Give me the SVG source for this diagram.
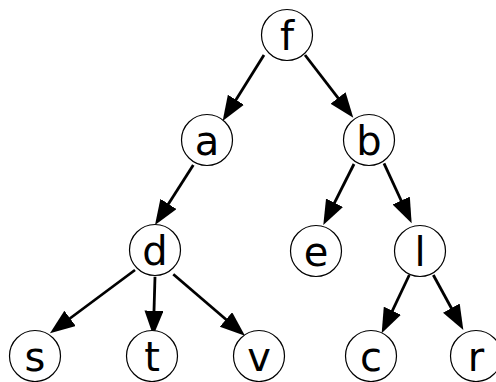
<svg xmlns="http://www.w3.org/2000/svg" width="496" height="382" viewBox="0 0 496 382">
<style>
.node circle{fill:#fff;stroke:#000;stroke-width:1.2}
.node text{font-family:"DejaVu Sans",sans-serif;font-size:40px;text-anchor:middle;fill:#000}
.edges line{stroke:#000;stroke-width:2.8;marker-end:url(#arr)}
</style>
<defs>
<marker id="arr" markerUnits="userSpaceOnUse" markerWidth="26" markerHeight="20" refX="17" refY="9.5" orient="auto">
<path d="M0,0 L25,9.5 L0,19 z" fill="#000"/>
</marker>
</defs>
<rect width="496" height="382" fill="#fff"/>
<g class="edges">
<line x1="264" y1="55" x2="226.9" y2="114.2"/>
<line x1="305" y1="55" x2="348.4" y2="111.4"/>
<line x1="193.3" y1="165" x2="159.3" y2="218.3"/>
<line x1="354" y1="164" x2="326.9" y2="217.9"/>
<line x1="384" y1="163.3" x2="408.3" y2="216"/>
<line x1="135" y1="270" x2="56.4" y2="328.5"/>
<line x1="155" y1="276.7" x2="153.5" y2="327.7"/>
<line x1="173.3" y1="274.3" x2="238.9" y2="330.5"/>
<line x1="409.3" y1="275" x2="385.1" y2="326.1"/>
<line x1="433.3" y1="275" x2="459.5" y2="323"/>
</g>
<g id="f" class="node"><circle cx="287" cy="35" r="25.5"/><text x="287" y="50">f</text></g>
<g id="a" class="node"><circle cx="207" cy="140" r="25.5"/><text x="207" y="155">a</text></g>
<g id="b" class="node"><circle cx="369" cy="140" r="25.5"/><text x="369" y="155">b</text></g>
<g id="d" class="node"><circle cx="155" cy="250" r="25.5"/><text x="155" y="265">d</text></g>
<g id="e" class="node"><circle cx="316" cy="251" r="25.5"/><text x="316" y="266">e</text></g>
<g id="l" class="node"><circle cx="420" cy="251" r="25.5"/><text x="420" y="266">l</text></g>
<g id="s" class="node"><circle cx="35" cy="356" r="25.5"/><text x="35" y="371">s</text></g>
<g id="t" class="node"><circle cx="152" cy="356" r="25.5"/><text x="152" y="371">t</text></g>
<g id="v" class="node"><circle cx="259" cy="356" r="25.5"/><text x="259" y="371">v</text></g>
<g id="c" class="node"><circle cx="371" cy="356" r="25.5"/><text x="371" y="371">c</text></g>
<g id="r" class="node"><circle cx="476" cy="356" r="25.5"/><text x="476" y="371">r</text></g>
</svg>
